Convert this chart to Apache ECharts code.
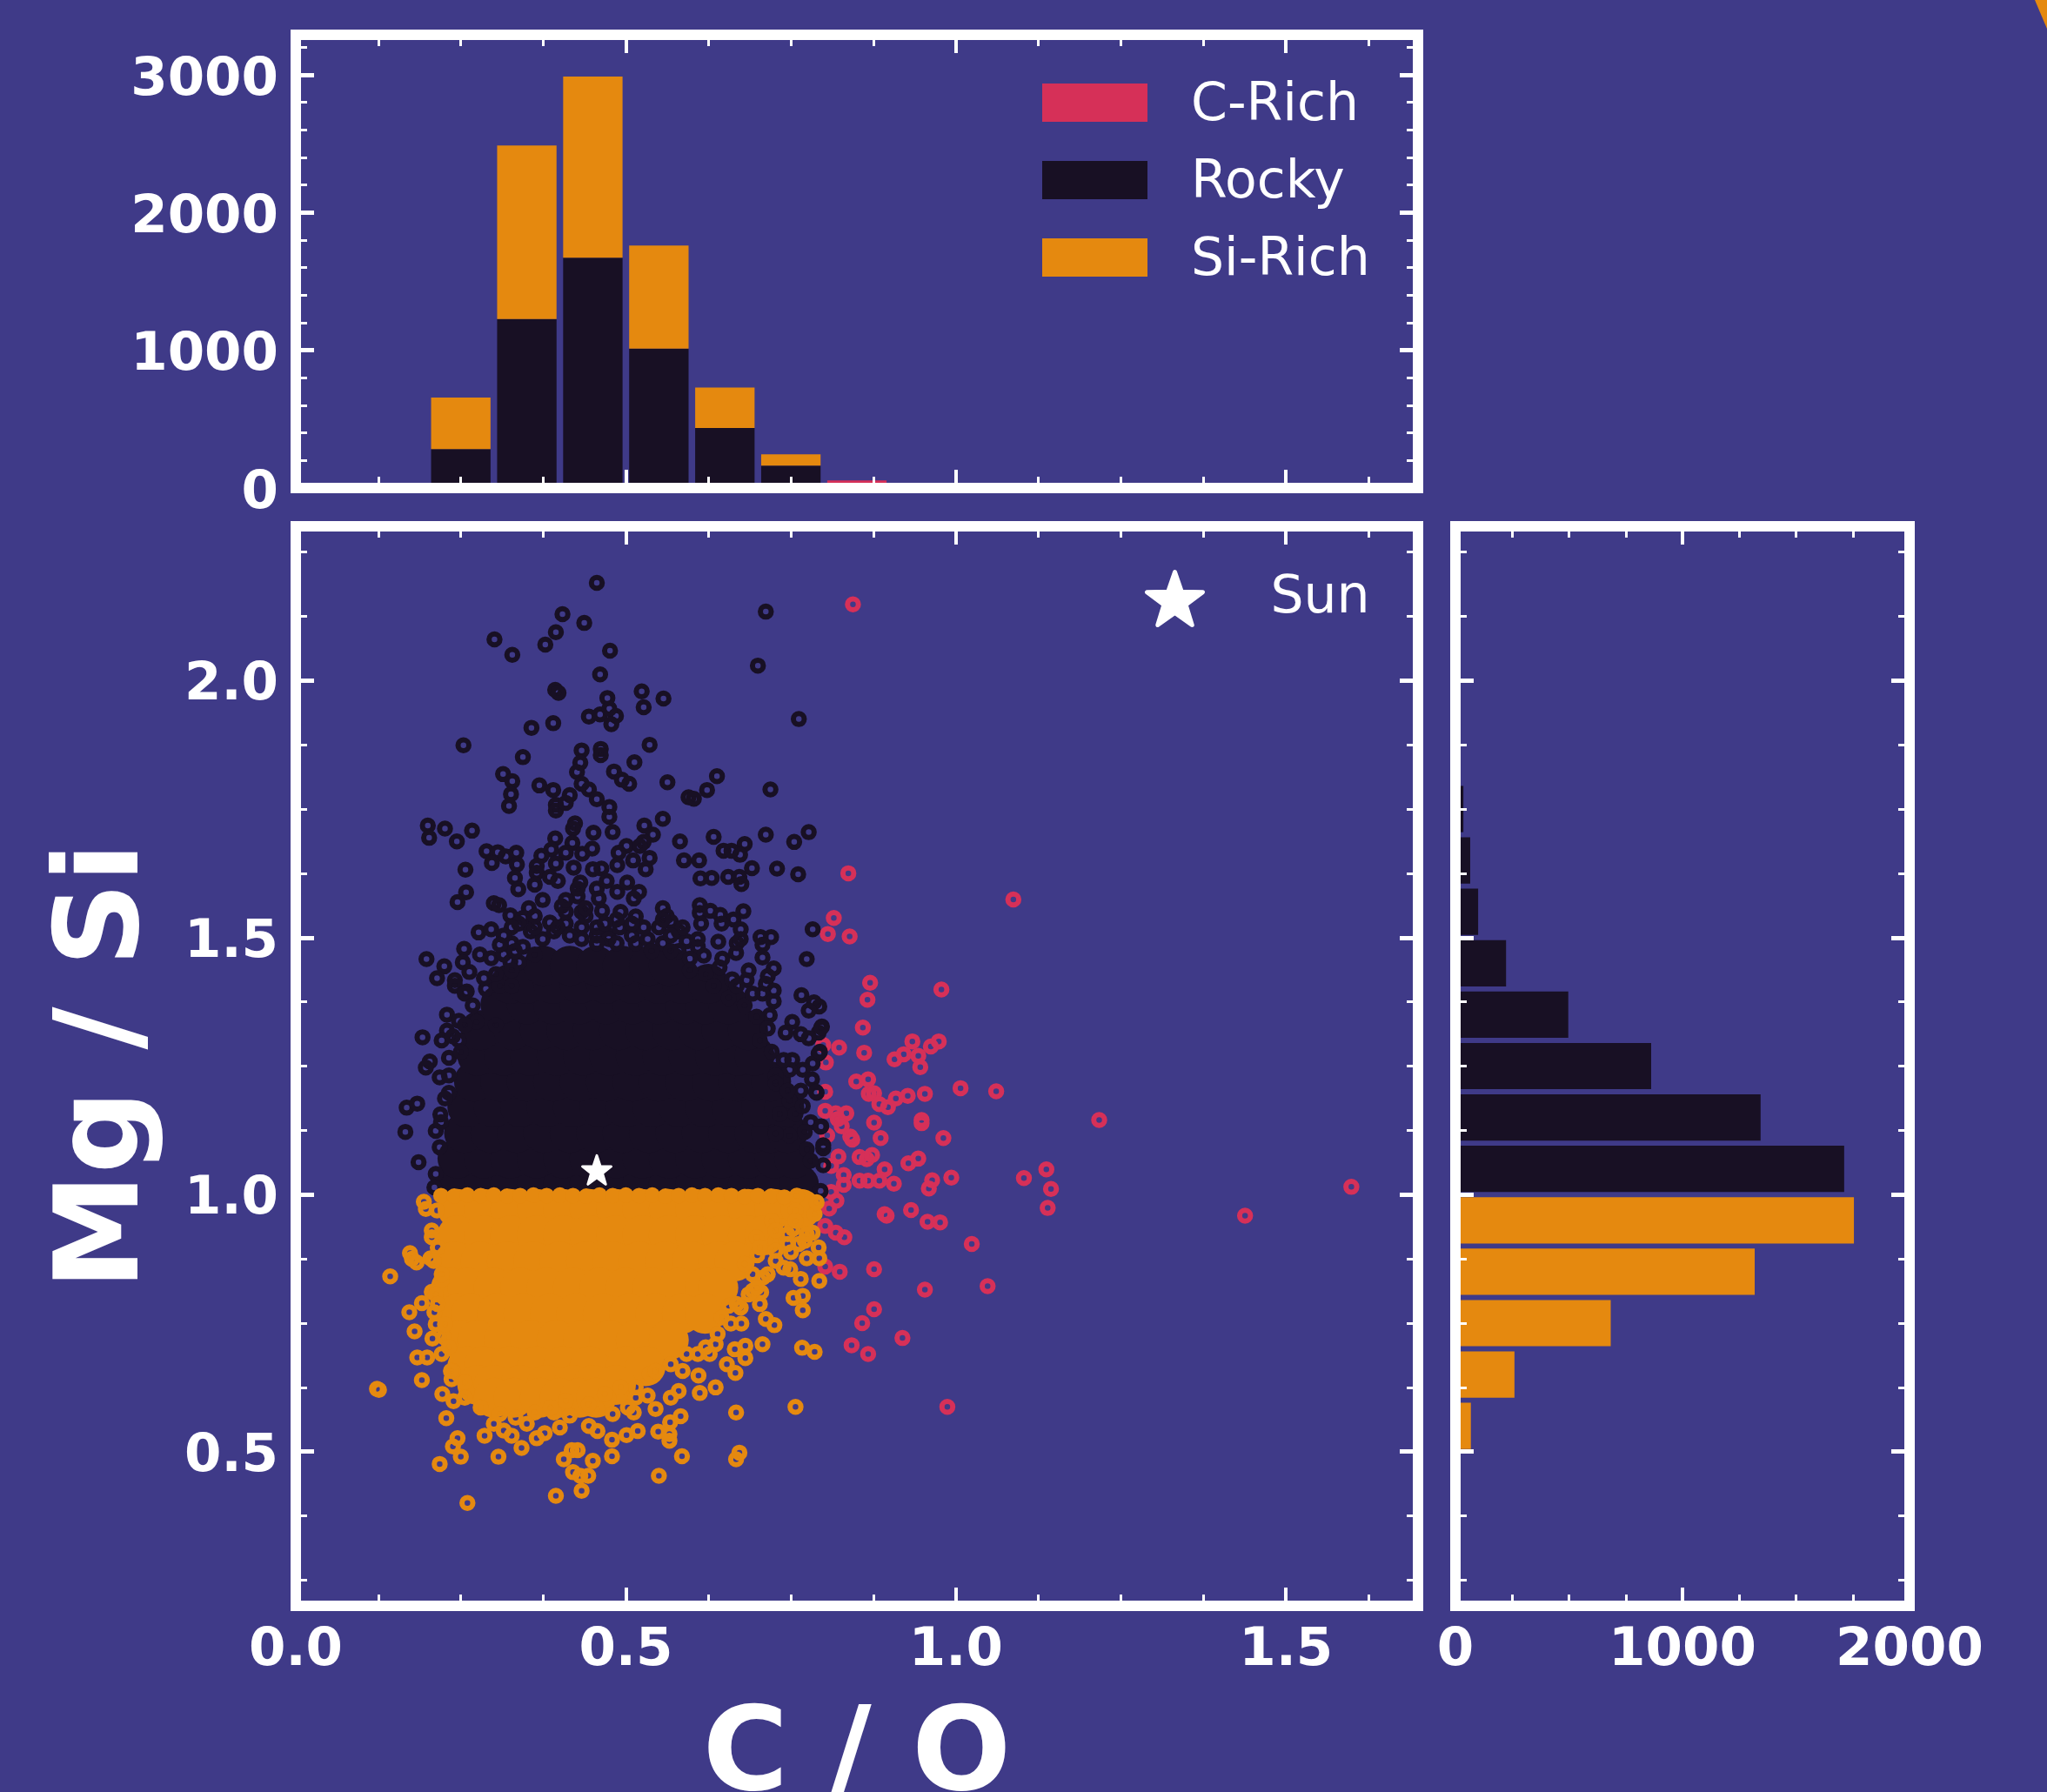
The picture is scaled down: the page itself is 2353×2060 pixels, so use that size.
<!DOCTYPE html>
<html><head><meta charset="utf-8">
<style>html,body{margin:0;padding:0;background:#3f3a88}#c{width:2353px;height:2060px}</style>
<script src="https://cdn.jsdelivr.net/npm/echarts@6/dist/echarts.min.js"></script>
</head><body><div id="c"></div>
<script>
const BG='#3f3a88', ORANGE='#e5890f', DARK='#181024', PINK='#d63058', WHITE='#ffffff';

// --- histogram bins
const coBins=['0.05','0.15','0.25','0.35','0.45','0.55','0.65','0.75','0.85','0.95','1.05','1.15','1.25','1.35','1.45','1.55','1.65'];
const coCRich=[0,0,0,0,0,0,0,0,55,0,0,0,0,0,0,0,0];
const coRocky=[0,0,282,1227,1672,1012,435,162,0,0,0,0,0,0,0,0,0];
const coSiRich=[0,0,375,1260,1315,748,295,83,0,0,0,0,0,0,0,0,0];
const mgBins=['0.25','0.35','0.45','0.55','0.65','0.75','0.85','0.95','1.05','1.15','1.25','1.35','1.45','1.55','1.65','1.75','1.85','1.95','2.05','2.15','2.25'];
const mgRocky=[0,0,0,0,0,0,0,0,1712,1344,862,497,223,100,65,35,0,0,0,0,0];
const mgSiRich=[0,0,0,68,260,684,1318,1755,0,0,0,0,0,0,0,0,0,0,0,0,0];

// --- ticks
const xMajor=[0,0.5,1,1.5];
const xMinor=[0.125,0.25,0.375,0.625,0.75,0.875,1.125,1.25,1.375,1.625];
const yMajor=[0.5,1,1.5,2];
const yMinor=[0.25,0.375,0.625,0.75,0.875,1.125,1.25,1.375,1.625,1.75,1.875,2.125,2.25];
const countMajor=[0,1000,2000,3000];
const countMinor=[200,400,600,800,1200,1400,1600,1800,2200,2400,2600,2800,3200];
const hMajor=[0,1000,2000];
const hMinor=[250,500,750,1250,1500,1750];

// --- sun
const sunPoint=[[0.456,1.048]];

// --- C-rich points
const cRichPoints=[[.844,2.148],[.837,1.625],[1.087,1.574],[.815,1.538],[.806,1.507],[.839,1.502],[.870,1.412],[.866,1.379],[.978,1.399],[.859,1.325],[.823,1.286],[.861,1.276],[.934,1.298],[.974,1.298],[.962,1.288],[.921,1.273],[.907,1.263],[.943,1.270],[.946,1.248],[.803,1.257],[.799,1.291],[.849,1.220],[.867,1.224],[.802,1.200],[.868,1.196],[.876,1.197],[.927,1.192],[.909,1.187],[.953,1.196],[1.007,1.207],[1.061,1.201],[.884,1.176],[.897,1.170],[.802,1.163],[.818,1.158],[.834,1.158],[.821,1.147],[.827,1.133],[.876,1.140],[.948,1.139],[.948,1.145],[1.217,1.145],[.805,1.115],[.840,1.113],[.843,1.107],[.886,1.110],[.981,1.110],[.822,1.074],[.854,1.073],[.865,1.069],[.873,1.077],[.943,1.070],[.928,1.061],[.811,1.056],[.892,1.049],[.830,1.038],[1.137,1.049],[.993,1.033],[1.103,1.032],[.964,1.028],[.959,1.012],[.830,1.019],[.854,1.027],[.867,1.027],[.884,1.027],[.906,1.021],[1.144,1.011],[1.599,1.015],[.811,1.005],[.819,.988],[.808,.973],[1.139,.974],[.932,.970],[.892,.962],[.895,.959],[.957,.947],[.976,.946],[1.438,.959],[.802,.939],[.818,.926],[.831,.917],[1.024,.904],[.876,.855],[.824,.850],[.802,.860],[.953,.815],[1.048,.822],[.876,.777],[.858,.750],[.919,.721],[.842,.707],[.867,.690],[.987,.587]];

// --- Rocky points outside the solid part of the cloud
const rockyPoints=[[.456,2.190],[.712,2.134],[.404,2.129],[.437,2.112],[.394,2.094],[.301,2.080],[.378,2.070],[.328,2.050],[.476,2.058],[.461,2.012],[.700,2.029],[.393,1.982],[.398,1.976],[.472,1.966],[.524,1.979],[.557,1.965],[.527,1.948],[.444,1.930],[.461,1.934],[.485,1.931],[.475,1.945],[.478,1.915],[.390,1.917],[.357,1.908],[.762,1.925],[.254,1.874],[.344,1.851],[.433,1.864],[.462,1.867],[.462,1.855],[.536,1.875],[.513,1.841],[.431,1.840],[.426,1.822],[.482,1.823],[.494,1.807],[.505,1.799],[.314,1.818],[.328,1.804],[.326,1.779],[.323,1.756],[.369,1.796],[.390,1.787],[.563,1.802],[.638,1.814],[.623,1.787],[.595,1.773],[.603,1.770],[.719,1.788],[.433,1.799],[.444,1.788],[.415,1.777],[.456,1.769],[.475,1.754],[.394,1.758],[.394,1.747],[.409,1.762],[.475,1.735],[.556,1.731],[.200,1.718],[.202,1.694],[.226,1.712],[.244,1.687],[.267,1.708],[.528,1.718],[.541,1.700],[.423,1.722],[.420,1.712],[.451,1.704],[.480,1.705],[.393,1.693],[.582,1.687],[.633,1.696],[.712,1.700],[.777,1.705],[.755,1.686],[.680,1.682],[.648,1.669],[.660,1.669],[.673,1.661],[.289,1.668],[.306,1.666],[.334,1.665],[.318,1.658],[.297,1.645],[.335,1.642],[.257,1.632],[.387,1.671],[.372,1.659],[.419,1.684],[.409,1.665],[.434,1.663],[.449,1.673],[.501,1.678],[.527,1.686],[.521,1.678],[.489,1.665],[.511,1.650],[.536,1.655],[.530,1.633],[.394,1.644],[.421,1.636],[.450,1.633],[.463,1.634],[.487,1.641],[.588,1.650],[.611,1.650],[.691,1.635],[.729,1.634],[.761,1.623],[.613,1.615],[.630,1.616],[.655,1.618],[.672,1.618],[.675,1.604],[.365,1.639],[.365,1.626],[.332,1.616],[.337,1.594],[.362,1.603],[.385,1.618],[.397,1.610],[.431,1.607],[.456,1.595],[.471,1.610],[.487,1.589],[.502,1.607],[.520,1.589],[.512,1.576],[.258,1.588],[.245,1.569],[.300,1.567],[.308,1.563],[.325,1.543],[.353,1.557],[.403,1.561],[.427,1.580],[.459,1.576],[.464,1.552],[.433,1.550],[.556,1.557],[.612,1.563],[.612,1.548],[.628,1.552],[.643,1.544],[.678,1.551],[.663,1.535],[.614,1.527],[.645,1.527],[.674,1.516],[.783,1.516],[.562,1.542],[.515,1.541],[.492,1.550],[.385,1.529],[.344,1.538],[.277,1.510],[.296,1.516],[.568,1.531],[.474,1.504],[.509,1.504],[.550,1.520],[.580,1.512],[.592,1.493],[.640,1.492],[.704,1.501],[.720,1.501],[.707,1.486],[.668,1.489],[.674,1.497],[.707,1.461],[.609,1.482],[.618,1.465],[.646,1.459],[.642,1.442],[.774,1.458],[.667,1.470],[.255,1.478],[.198,1.458],[.253,1.452],[.263,1.433],[.225,1.444],[.214,1.421],[.279,1.467],[.296,1.460],[.325,1.453],[.241,1.417],[.241,1.406],[.259,1.395],[.288,1.400],[.309,1.406],[.327,1.406],[.686,1.436],[.683,1.417],[.661,1.419],[.724,1.440],[.715,1.425],[.712,1.410],[.724,1.397],[.707,1.391],[.766,1.388],[.785,1.374],[.793,1.366],[.777,1.358],[.724,1.376],[.718,1.349],[.752,1.336],[.797,1.327],[.792,1.315],[.765,1.312],[.742,1.315],[.777,1.304],[.229,1.350],[.247,1.338],[.274,1.336],[.229,1.319],[.221,1.300],[.192,1.306],[.303,1.330],[.247,1.300],[.232,1.266],[.203,1.259],[.197,1.247],[.218,1.228],[.232,1.198],[.168,1.169],[.184,1.177],[.166,1.122],[.219,1.156],[.212,1.124],[.218,1.092],[.752,1.262],[.792,1.274],[.783,1.255],[.768,1.243],[.748,1.243],[.782,1.224],[.727,1.232],[.789,1.198],[.765,1.202],[.748,1.183],[.780,1.141],[.795,1.132],[.771,1.122],[.748,1.115],[.799,1.096],[.186,1.063],[.212,1.040],[.210,1.014],[.799,1.090],[.799,1.057],[.795,1.007],[.774,1.088],[.780,1.066],[.796,1.325],[.794,1.278],[.788,1.200],[.796,1.133]];
const rockyEdgePoints=[[.338,1.527],[.356,1.512],[.374,1.497],[.391,1.512],[.409,1.527],[.433,1.520],[.456,1.504],[.474,1.497],[.491,1.520],[.515,1.489],[.533,1.497],[.556,1.489],[.580,1.474],[.597,1.459],[.327,1.489],[.344,1.482],[.362,1.467],[.315,1.467],[.338,1.452],[.285,1.421],[.303,1.429],[.327,1.436],[.597,1.436],[.621,1.429],[.633,1.406],[.656,1.383],[.680,1.368],[.698,1.346],[.715,1.323],[.668,1.406],[.692,1.391],[.586,1.520],[.609,1.497],[.486,1.535],[.439,1.542],[.409,1.550],[.362,1.520],[.703,1.300],[.721,1.278],[.739,1.262],[.727,1.217],[.745,1.202],[.733,1.157],[.757,1.157],[.768,1.172],[.727,1.119],[.256,1.391],[.268,1.368],[.256,1.330],[.238,1.308],[.250,1.277],[.232,1.232],[.226,1.187],[.220,1.141],[.374,1.573],[.409,1.573],[.427,1.595],[.439,1.557],[.556,1.535],[.568,1.504],[.527,1.520],[.509,1.527],[.456,1.520],[.468,1.527],[.327,1.520],[.315,1.504],[.362,1.542],[.397,1.520],[.415,1.504],[.433,1.497],[.456,1.489],[.486,1.489],[.539,1.474],[.568,1.474],[.309,1.486],[.332,1.474]];

// --- solid overplotted core of the Rocky cloud: [y, x values]
const rockyCoreRows=[
[1.02,[.245,.285,.325,.365,.405,.445,.485,.525,.565,.605,.645,.685,.725,.762]],
[1.07,[.245,.285,.325,.365,.405,.445,.485,.525,.565,.605,.645,.685,.725,.755]],
[1.12,[.255,.295,.335,.375,.415,.455,.495,.535,.575,.615,.655,.695,.72,.745]],
[1.17,[.26,.30,.34,.38,.42,.46,.50,.54,.58,.62,.66,.705,.74]],
[1.22,[.27,.31,.35,.39,.43,.47,.51,.55,.59,.63,.67,.695,.72]],
[1.27,[.275,.315,.355,.395,.435,.475,.515,.555,.595,.635,.67,.695]],
[1.32,[.28,.33,.37,.41,.45,.49,.53,.57,.61,.645,.685]],
[1.37,[.31,.35,.39,.43,.47,.51,.55,.59,.62,.655]],
[1.41,[.325,.35,.39,.43,.47,.51,.55,.585,.625]],
[1.445,[.375,.415,.455,.495,.535,.565]]];

// --- Si-rich points outside the solid part of the cloud
const siRichPoints=[[.194,.986],[.197,.972],[.214,.969],[.206,.930],[.206,.917],[.173,.886],[.176,.875],[.183,.868],[.204,.876],[.143,.841],[.221,.834],[.206,.811],[.191,.789],[.172,.771],[.210,.771],[.212,.748],[.180,.734],[.207,.720],[.224,.723],[.184,.683],[.199,.683],[.221,.690],[.191,.639],[.236,.641],[.126,.620],[.123,.622],[.222,.612],[.239,.598],[.228,.565],[.286,.531],[.245,.526],[.238,.510],[.250,.490],[.218,.476],[.307,.490],[.342,.507],[.327,.531],[.365,.526],[.377,.536],[.400,.547],[.444,.550],[.457,.540],[.479,.523],[.501,.532],[.518,.540],[.479,.491],[.450,.482],[.406,.485],[.418,.503],[.427,.503],[.420,.460],[.431,.453],[.443,.453],[.433,.424],[.394,.414],[.260,.400],[.550,.453],[.585,.491],[.667,.485],[.672,.498],[.549,.539],[.567,.557],[.583,.569],[.566,.521],[.566,.534],[.667,.576],[.757,.587],[.612,.614],[.636,.625],[.568,.605],[.580,.618],[.610,.648],[.666,.653],[.681,.682],[.665,.699],[.681,.706],[.707,.709],[.767,.702],[.786,.694],[.725,.746],[.712,.758],[.659,.749],[.675,.749],[.768,.775],[.754,.799],[.768,.803],[.793,.832],[.708,.839],[.765,.836],[.749,.855],[.727,.871],[.774,.876],[.793,.876],[.792,.897],[.771,.910],[.783,.926],[.750,.888],[.699,.882],[.753,.933],[.736,.939],[.786,.962],[.789,.985],[.759,.998],[.703,.787],[.705,.810],[.674,.780],[.656,.784],[.636,.709],[.627,.690],[.609,.690],[.653,.670],[.586,.657],[.536,.651],[.515,.625],[.533,.609],[.545,.583],[.512,.576],[.480,.573],[.456,.583],[.415,.570],[.391,.576],[.362,.576],[.350,.554],[.300,.554],[.315,.541],[.238,.657],[.256,.635],[.727,.910],[.698,.917],[.692,.845],[.745,.904],[.721,.949],[.757,.969],[.692,.813]];
const siEdgePoints=[[.256,.605],[.280,.586],[.309,.573],[.333,.566],[.386,.586],[.409,.599],[.444,.592],[.468,.612],[.492,.625],[.515,.605],[.503,.586],[.545,.657],[.568,.670],[.592,.690],[.621,.703],[.639,.729],[.645,.761],[.668,.787],[.686,.806],[.698,.819],[.715,.845],[.680,.865],[.727,.891],[.703,.897],[.739,.858],[.762,.904],[.774,.923],[.745,.923],[.757,.949],[.727,.930],[.221,.845],[.212,.806],[.215,.787],[.226,.748],[.232,.703],[.235,.657],[.215,.897],[.209,.871]];

// --- solid overplotted core of the Si-rich cloud: [y, x values]
const siCoreRows=[
[.972,[.245,.285,.325,.365,.405,.445,.485,.525,.565,.605,.645,.685,.725,.765]],
[.921,[.245,.285,.325,.365,.405,.445,.485,.525,.565,.605,.645,.685,.71]],
[.87,[.24,.28,.32,.36,.40,.44,.48,.52,.56,.60,.64,.665]],
[.819,[.235,.26,.30,.34,.38,.42,.46,.50,.54,.58,.62,.64]],
[.768,[.245,.265,.305,.345,.385,.425,.465,.505,.545,.585,.62]],
[.717,[.25,.275,.315,.355,.395,.435,.475,.515,.565]],
[.666,[.26,.285,.325,.365,.405,.445,.50,.53]],
[.63,[.275,.30,.34,.38,.42,.45,.485]],
[.605,[.30,.33,.37,.40,.43,.455]]];
const siTopEdgeX=[.22,.24,.26,.28,.30,.32,.34,.36,.38,.40,.42,.44,.46,.48,.50,.52,.54,.56,.58,.60,.62,.64,.66,.68,.70,.72,.74];
const siTopEdgeY=[.998,.997,.999,.998,.999,.997,.998,.999,.998,.999,.998,.997,.999,.998,.999,.998,.999,.997,.998,.999,.998,.999,.998,.996,.998,.997,.995];

const rowsToPoints=rows=>rows.flatMap(r=>r[1].map(x=>[x,r[0]]));
const starPath='path://M50 3 L61.5 36.5 L97 37 L68.5 58.5 L79 92.5 L50 72 L21 92.5 L31.5 58.5 L3 37 L38.5 36.5 Z';
const FONT='DejaVu Sans';

const xAxes=[], yAxes=[];
const labelStyle=(values,fmt,margin,shift)=>{
  const base={color:WHITE,fontFamily:FONT,fontWeight:'bold',fontSize:61};
  return Object.assign({show:true,customValues:values,margin},base,
    shift?{formatter:v=>'{t|'+fmt(v)+'}',rich:{t:Object.assign({padding:[shift,0,0,0]},base)}}:{formatter:fmt});
};
function tickAxis(list,grid,position,min,max,values,len,width,label,extra){
  list.push(Object.assign({type:'value',gridIndex:grid,position,min,max,z:5,
    axisLine:{show:true,onZero:false,lineStyle:{color:WHITE,width:12,cap:'square'}},
    axisTick:{show:true,inside:true,length:len,customValues:values,lineStyle:{color:WHITE,width}},
    splitLine:{show:false},
    axisLabel:label||{show:false}},extra||{}));
  return list.length-1;
}
function catAxis(list,grid,position,data){
  list.push({type:'category',gridIndex:grid,position,data,show:false,boundaryGap:true});
  return list.length-1;
}
const fmt1=v=>v.toFixed(1);
const fmt0=v=>String(v);
const XLIM=[0,1.7], YLIM=[0.2,2.3], CLIM=[0,3290], HLIM=[0,2000];

// grid 0 : top histogram
const g0xCat=catAxis(xAxes,0,'bottom',coBins);
tickAxis(xAxes,0,'bottom',...XLIM,xMajor,21,4);
tickAxis(xAxes,0,'bottom',...XLIM,xMinor,13,3);
tickAxis(xAxes,0,'top',...XLIM,xMajor,21,4);
tickAxis(xAxes,0,'top',...XLIM,xMinor,13,3);
const g0y=tickAxis(yAxes,0,'left',...CLIM,countMajor,21,5,labelStyle(countMajor,fmt0,20,14));
tickAxis(yAxes,0,'left',...CLIM,countMinor,13,3);
tickAxis(yAxes,0,'right',...CLIM,countMajor,21,5);
tickAxis(yAxes,0,'right',...CLIM,countMinor,13,3);

// grid 1 : scatter
const g1x=tickAxis(xAxes,1,'bottom',...XLIM,xMajor,21,4,labelStyle(xMajor,fmt1,22),
  {name:'C / O',nameLocation:'middle',nameGap:109,nameTextStyle:{color:WHITE,fontFamily:FONT,fontWeight:'bold',fontSize:134}});
tickAxis(xAxes,1,'bottom',...XLIM,xMinor,13,3);
tickAxis(xAxes,1,'top',...XLIM,xMajor,21,4);
tickAxis(xAxes,1,'top',...XLIM,xMinor,13,3);
const g1y=tickAxis(yAxes,1,'left',...YLIM,yMajor,21,5,labelStyle(yMajor,fmt1,20,12),
  {name:'Mg / Si',nameLocation:'middle',nameGap:150,nameRotate:90,nameTextStyle:{color:WHITE,fontFamily:FONT,fontWeight:'bold',fontSize:134}});
tickAxis(yAxes,1,'left',...YLIM,yMinor,13,3);
tickAxis(yAxes,1,'right',...YLIM,yMajor,21,5);
tickAxis(yAxes,1,'right',...YLIM,yMinor,13,3);

// grid 2 : right histogram
const g2yCat=catAxis(yAxes,2,'left',mgBins);
const g2x=tickAxis(xAxes,2,'bottom',...HLIM,hMajor,21,4,labelStyle(hMajor,fmt0,22));
tickAxis(xAxes,2,'bottom',...HLIM,hMinor,13,3);
tickAxis(xAxes,2,'top',...HLIM,hMajor,21,4);
tickAxis(xAxes,2,'top',...HLIM,hMinor,13,3);
tickAxis(yAxes,2,'left',...YLIM,yMajor,21,5);
tickAxis(yAxes,2,'left',...YLIM,yMinor,13,3);
tickAxis(yAxes,2,'right',...YLIM,yMajor,21,5);
tickAxis(yAxes,2,'right',...YLIM,yMinor,13,3);

const topBar=(name,data,color)=>({type:'bar',name,data,stack:'co',barWidth:'90%',xAxisIndex:g0xCat,yAxisIndex:g0y,itemStyle:{color},silent:true});
const sideBar=(name,data,color)=>({type:'bar',name:name,data,stack:'mg',barWidth:'90%',xAxisIndex:g2x,yAxisIndex:g2yCat,itemStyle:{color},silent:true});
const rings=(name,data,color)=>({type:'scatter',name,data,xAxisIndex:g1x,yAxisIndex:g1y,symbol:'circle',symbolSize:12.5,silent:true,
  itemStyle:{color:'rgba(0,0,0,0)',borderColor:color,borderWidth:6,opacity:1}});
const solid=(name,data,color,size)=>({type:'scatter',name,data,xAxisIndex:g1x,yAxisIndex:g1y,symbol:'circle',symbolSize:size,silent:true,
  itemStyle:{color,opacity:1}});

const legendText={color:WHITE,fontFamily:FONT,fontSize:60};
const option={
  animation:false,
  backgroundColor:BG,
  grid:[
    {left:340,top:40,width:1290,height:521,outerBoundsMode:'none'},
    {left:340,top:605,width:1290,height:1241,outerBoundsMode:'none'},
    {left:1673,top:605,width:522,height:1241,outerBoundsMode:'none'}
  ],
  xAxis:xAxes,
  yAxis:yAxes,
  legend:[
    {data:['C-Rich','Rocky','Si-Rich'],orient:'vertical',left:1198,top:92,padding:0,itemWidth:121,itemHeight:44,itemGap:29,icon:'rect',selectedMode:false,
     formatter:n=>'{t|'+n+'}',
     textStyle:{color:WHITE,fontFamily:FONT,fontSize:60,rich:{t:Object.assign({padding:[8,0,0,45]},legendText)}}},
    {data:['Sun'],orient:'vertical',left:1316,top:655,padding:0,itemWidth:64,itemHeight:62,icon:starPath,selectedMode:false,
     itemStyle:{color:WHITE,opacity:1,borderColor:WHITE,borderWidth:5,borderJoin:'round'},
     textStyle:{color:WHITE,fontFamily:FONT,fontSize:60,padding:[0,0,0,73]}}
  ],
  graphic:[{type:'polygon',shape:{points:[[2339,0],[2353,0],[2353,33]]},style:{fill:ORANGE},silent:true}],
  series:[
    topBar('C-Rich',coCRich,PINK),
    topBar('Rocky',coRocky,DARK),
    topBar('Si-Rich',coSiRich,ORANGE),
    sideBar('Rocky',mgRocky,DARK),
    sideBar('Si-Rich',mgSiRich,ORANGE),
    rings('C-Rich points',cRichPoints,PINK),
    solid('Rocky core',rowsToPoints(rockyCoreRows),DARK,46),
    rings('Rocky points',rockyPoints,DARK),
    rings('Rocky edge points',rockyEdgePoints,DARK),
    solid('Si-Rich core',rowsToPoints(siCoreRows),ORANGE,46),
    solid('Si-Rich top edge',siTopEdgeX.map((x,i)=>[x,siTopEdgeY[i]]),ORANGE,18),
    rings('Si-Rich points',siRichPoints,ORANGE),
    rings('Si-Rich edge points',siEdgePoints,ORANGE),
    {type:'scatter',name:'Sun',data:sunPoint,xAxisIndex:g1x,yAxisIndex:g1y,symbol:starPath,symbolSize:33,silent:true,z:4,
     itemStyle:{color:WHITE,opacity:1,borderColor:WHITE,borderWidth:3,borderJoin:'round'}}
  ]
};
echarts.init(document.getElementById('c'),null,{renderer:'canvas'}).setOption(option);
</script></body></html>
